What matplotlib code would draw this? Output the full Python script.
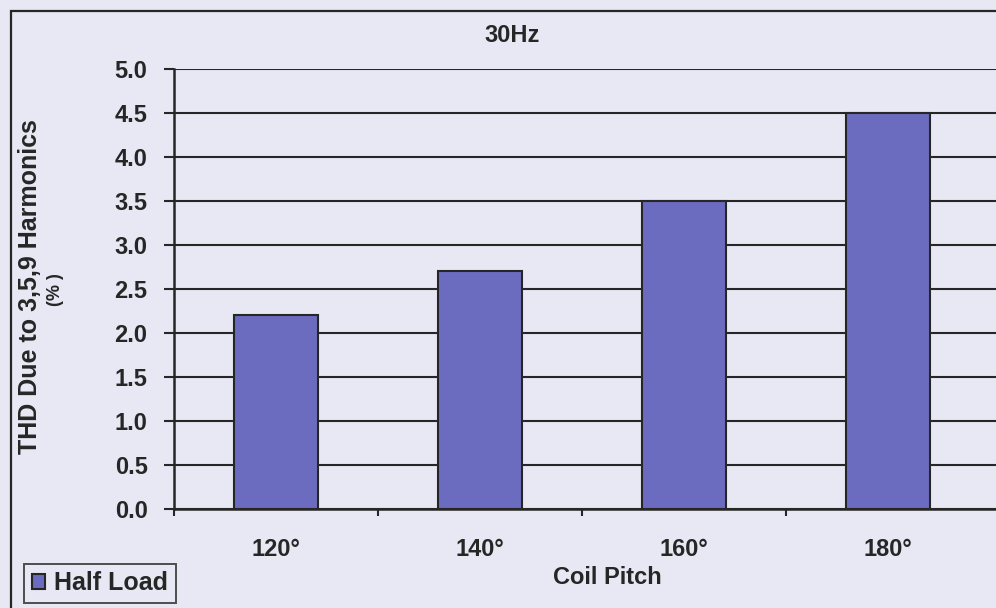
import matplotlib
matplotlib.use('Agg')
import matplotlib.pyplot as plt
from matplotlib.patches import Rectangle

# Chart data
categories = ['120°', '140°', '160°', '180°']
half_load = [2.2, 2.7, 3.5, 4.5]
y_ticks = [0.0, 0.5, 1.0, 1.5, 2.0, 2.5, 3.0, 3.5, 4.0, 4.5, 5.0]

bg = '#e8e8f4'
bar_color = '#6b6bbf'
ink = '#262626'
plt.rcParams['font.family'] = ['Liberation Sans', 'DejaVu Sans']
plt.rcParams['font.weight'] = 'bold'

W, H = 996, 608
fig = plt.figure(figsize=(W / 100, H / 100), dpi=100)
fig.patch.set_facecolor(bg)

# outer chart frame (right/bottom edges fall outside the picture)
fig.patches.append(Rectangle((11 / W, -0.05), 1.2, 1 - 11 / H + 0.05,
                             transform=fig.transFigure, fill=False,
                             edgecolor=ink, linewidth=1.6))

ax = fig.add_axes([174 / W, 1 - 509 / H, 822 / W, 440 / H])
ax.set_facecolor(bg)

x = range(len(categories))
ax.bar(x, half_load, width=0.41, color=bar_color, edgecolor=ink,
       linewidth=1.5, label='Half Load', zorder=3)

ax.set_xlim(-0.5, len(categories) - 0.5 + 0.03)
ax.set_ylim(0, 5.0)
ax.set_yticks(y_ticks)
ax.set_yticklabels([f'{v:.1f}' for v in y_ticks], fontsize=17, fontweight='bold')
ax.yaxis.grid(True, color=ink, linewidth=1.5, zorder=1)

ax.set_xticks([i - 0.5 for i in range(len(categories))])
ax.set_xticklabels([])
ax.set_xticks(list(x), minor=True)
ax.set_xticklabels(categories, minor=True, fontsize=17, fontweight='bold')
ax.tick_params(axis='x', which='minor', length=0, pad=21)
ax.tick_params(axis='x', which='major', direction='out', length=5, width=1.5,
               color=ink)
ax.tick_params(axis='y', direction='out', length=7, width=1.5, pad=12,
               color=ink, labelcolor=ink)
for lbl in ax.get_xticklabels(minor=True):
    lbl.set_color(ink)

for side in ['top', 'right']:
    ax.spines[side].set_visible(False)
ax.spines['left'].set_linewidth(1.8)
ax.spines['bottom'].set_linewidth(1.8)
ax.spines['left'].set_color(ink)
ax.spines['bottom'].set_color(ink)

# titles and axis labels
fig.text(512 / W, 1 - 35 / H, '30Hz', fontsize=17, fontweight='bold',
         color=ink, ha='center', va='center')
fig.text(607 / W, 1 - 578 / H, 'Coil Pitch', fontsize=17, fontweight='bold',
         color=ink, ha='center', va='center')
fig.text(30 / W, 1 - 287 / H, 'THD Due to 3,5,9 Harmonics', fontsize=18,
         fontweight='bold', color=ink, rotation=90, ha='center', va='center')
fig.text(55 / W, 1 - 290 / H, '(% )', fontsize=13, fontweight='bold',
         color=ink, rotation=90, ha='center', va='center')

leg = fig.legend(loc='lower left', bbox_to_anchor=(24 / W, 5 / H),
                 fontsize=18, frameon=True, fancybox=False,
                 handlelength=0.55, handleheight=0.55, handletextpad=0.35,
                 borderpad=0.3, borderaxespad=0)
leg.get_frame().set_edgecolor(ink)
leg.get_frame().set_facecolor(bg)
leg.get_frame().set_linewidth(1.4)
for t in leg.get_texts():
    t.set_color(ink)

plt.savefig('out.png', dpi=100, facecolor=bg)
plt.close()
